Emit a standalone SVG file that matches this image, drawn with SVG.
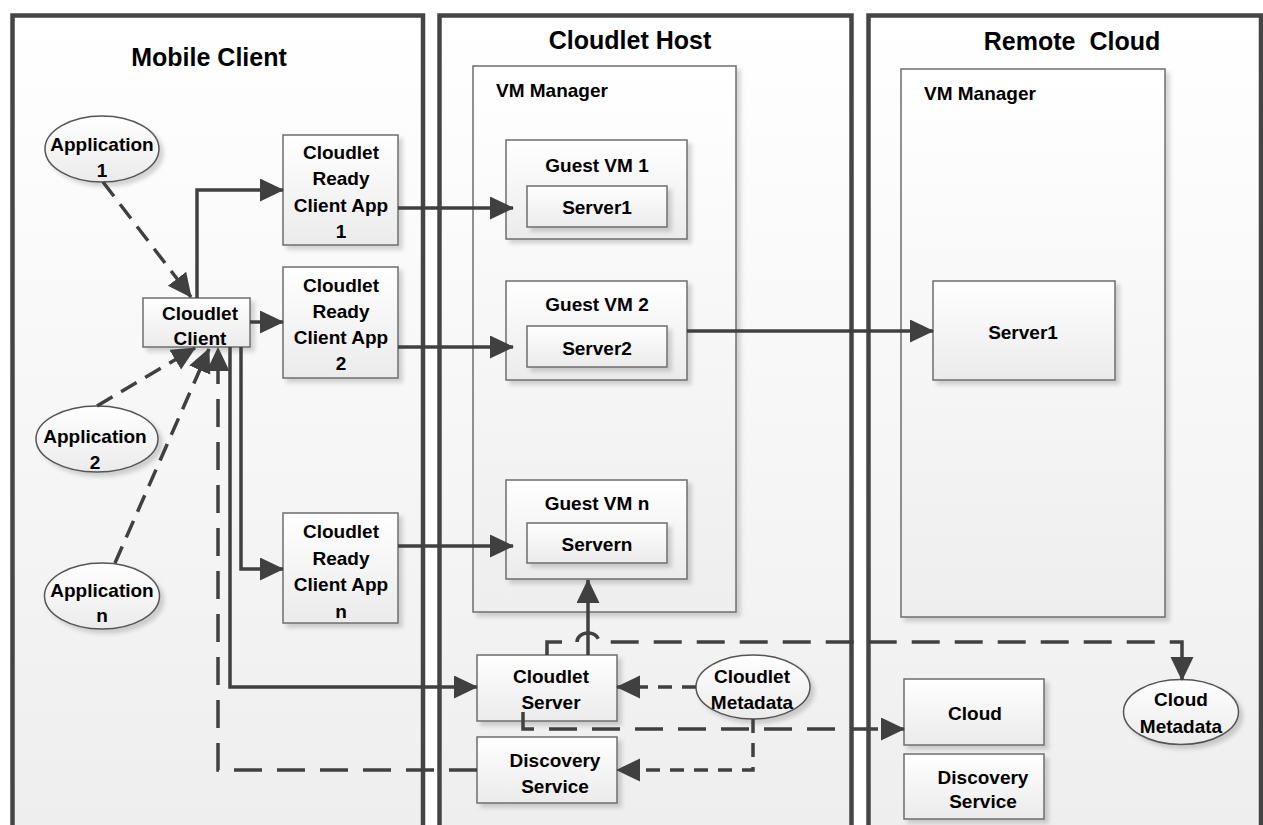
<svg xmlns="http://www.w3.org/2000/svg" width="1263" height="825" viewBox="0 0 1263 825">
<defs>
<linearGradient id="gPanel" x1="0" y1="0" x2="0" y2="1"><stop offset="0" stop-color="#ffffff"/><stop offset="1" stop-color="#eeeeee"/></linearGradient>
<linearGradient id="gBox" x1="0" y1="0" x2="0" y2="1"><stop offset="0" stop-color="#ffffff"/><stop offset="1" stop-color="#ebebeb"/></linearGradient>
<filter id="sh" x="-10%" y="-10%" width="130%" height="130%"><feDropShadow dx="4" dy="4" stdDeviation="2" flood-color="#000" flood-opacity="0.16"/></filter>
<marker id="ah" markerUnits="userSpaceOnUse" markerWidth="26" markerHeight="24" refX="23" refY="11.5" orient="auto"><path d="M0,0 L24,11.5 L0,23 Z" fill="#404040" stroke="none"/></marker>
</defs>
<style>
.panel{fill:url(#gPanel);stroke:#454545;stroke-width:4.5}
.box{fill:url(#gBox);stroke:#6e6e6e;stroke-width:1.5;filter:url(#sh)}
.ell{fill:url(#gBox);stroke:#555;stroke-width:1.5;filter:url(#sh)}
.mgr{fill:url(#gPanel);stroke:#6e6e6e;stroke-width:1.5;filter:url(#sh)}
text{font-family:"Liberation Sans",Arial,sans-serif;font-weight:bold;fill:#000}
.t{font-size:19px;text-anchor:middle}
.h{font-size:25px;text-anchor:middle}
.m{font-size:19px}
.c{fill:none;stroke:#404040;stroke-width:3.5}
.a{marker-end:url(#ah)}
.ds{stroke-dasharray:14 10}
.dl{stroke-dasharray:28 15}
.dd{stroke-dasharray:18 10}
</style>
<rect width="1263" height="825" fill="#ffffff"/>
<g id="panel-mobile"><rect class="panel" x="12.5" y="15.5" width="410.5" height="820"/><text class="h" x="209" y="66">Mobile Client</text></g>
<g id="panel-host"><rect class="panel" x="439.5" y="15.5" width="412" height="820"/><text class="h" x="630" y="49">Cloudlet Host</text></g>
<g id="panel-remote"><rect class="panel" x="868.5" y="15.5" width="392.5" height="820"/><text class="h" x="1072" y="50" xml:space="preserve">Remote  Cloud</text></g>
<g id="host-vm-manager"><rect class="mgr" x="473" y="66" width="263" height="546"/><text class="m" x="496" y="97">VM Manager</text></g>
<g id="remote-vm-manager"><rect class="mgr" x="901" y="69" width="264" height="548"/><text class="m" x="924" y="100">VM Manager</text></g>
<g id="app1"><ellipse class="ell" cx="102" cy="149" rx="57" ry="33"/><text class="t" x="102" y="151">Application</text><text class="t" x="102" y="177">1</text></g>
<g id="app2"><ellipse class="ell" cx="97" cy="439" rx="61" ry="33"/><text class="t" x="95" y="443">Application</text><text class="t" x="95" y="469">2</text></g>
<g id="appn"><ellipse class="ell" cx="102" cy="596" rx="57.5" ry="33"/><text class="t" x="102" y="597">Application</text><text class="t" x="102" y="622">n</text></g>
<g id="cloudlet-client"><rect class="box" x="143" y="298" width="107" height="49"/><text class="t" x="200" y="320">Cloudlet</text><text class="t" x="200" y="345">Client</text></g>
<g id="crca1"><rect class="box" x="283" y="135" width="115" height="110"/><text class="t" x="341" y="159">Cloudlet</text><text class="t" x="341" y="185">Ready</text><text class="t" x="341" y="212">Client App</text><text class="t" x="341" y="238">1</text></g>
<g id="crca2"><rect class="box" x="283" y="267" width="115" height="111"/><text class="t" x="341" y="292">Cloudlet</text><text class="t" x="341" y="318">Ready</text><text class="t" x="341" y="344">Client App</text><text class="t" x="341" y="370">2</text></g>
<g id="crcan"><rect class="box" x="283" y="513" width="115" height="110"/><text class="t" x="341" y="538">Cloudlet</text><text class="t" x="341" y="565">Ready</text><text class="t" x="341" y="591">Client App</text><text class="t" x="341" y="618">n</text></g>
<g id="guest-vm1"><rect class="box" x="506" y="140" width="181" height="99"/><text class="t" x="597" y="172">Guest VM 1</text><rect class="box" x="527" y="186" width="140" height="41"/><text class="t" x="597" y="214">Server1</text></g>
<g id="guest-vm2"><rect class="box" x="506" y="281" width="181" height="99"/><text class="t" x="597" y="311">Guest VM 2</text><rect class="box" x="527" y="326" width="140" height="41"/><text class="t" x="597" y="355">Server2</text></g>
<g id="guest-vmn"><rect class="box" x="506" y="480" width="181" height="99"/><text class="t" x="597" y="510">Guest VM n</text><rect class="box" x="527" y="523" width="140" height="40"/><text class="t" x="597" y="551">Servern</text></g>
<g id="cloudlet-server"><rect class="box" x="477" y="655" width="140" height="66"/><text class="t" x="551" y="683">Cloudlet</text><text class="t" x="551" y="709">Server</text></g>
<g id="host-discovery"><rect class="box" x="477" y="737" width="140" height="66"/><text class="t" x="555" y="767">Discovery</text><text class="t" x="555" y="793">Service</text></g>
<g id="cloudlet-metadata"><ellipse class="ell" cx="753" cy="687" rx="57" ry="32"/><text class="t" x="752" y="683">Cloudlet</text><text class="t" x="752" y="709">Metadata</text></g>
<g id="remote-server1"><rect class="box" x="933" y="281" width="182" height="99"/><text class="t" x="1023" y="339">Server1</text></g>
<g id="cloud"><rect class="box" x="904" y="679" width="140" height="66"/><text class="t" x="975" y="720">Cloud</text></g>
<g id="remote-discovery"><rect class="box" x="904" y="754" width="140" height="65"/><text class="t" x="983" y="784">Discovery</text><text class="t" x="983" y="808">Service</text></g>
<g id="cloud-metadata"><ellipse class="ell" cx="1181" cy="712" rx="57.5" ry="32.5"/><text class="t" x="1181" y="706">Cloud</text><text class="t" x="1181" y="733">Metadata</text></g>
<g id="connectors">
<path class="c a dd" d="M103,182 L191,297"/>
<path class="c a dd" d="M97,406 L195,348"/>
<path class="c a dd" d="M115,563 L209,349"/>
<path class="c a dl" d="M477,770 H218 V348"/>
<path class="c a" d="M197,298 V190 H283"/>
<path class="c a" d="M250,322 H283"/>
<path class="c a" d="M241,347 V569 H283"/>
<path class="c a" d="M230,347 V687 H477"/>
<path class="c a" d="M398,208 H513"/>
<path class="c a" d="M398,347 H513"/>
<path class="c a" d="M398,546 H513"/>
<path class="c a" d="M687,331 H933"/>
<path class="c a" d="M588,655 V580"/>
<path class="c a dl" d="M547,655 V642 H577 A11,9 0 0 1 599,642 H1182 V680"/>
<path class="c a dl" d="M523,712 V729 H904"/>
<path class="c a ds" d="M696,687 H617"/>
<path class="c a ds" d="M753,719 V770 H617"/>
</g>
</svg>
